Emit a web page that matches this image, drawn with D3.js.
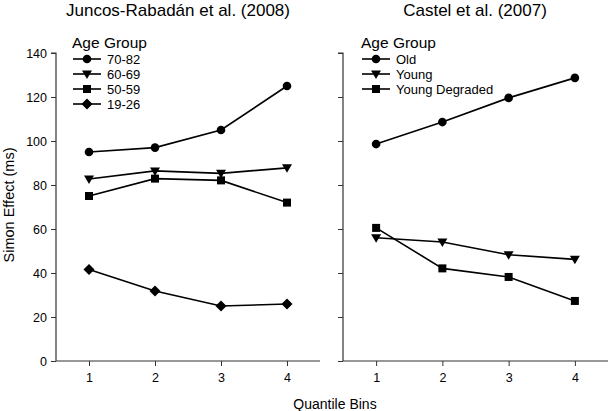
<!DOCTYPE html>
<html><head><meta charset="utf-8">
<script src="https://cdn.jsdelivr.net/npm/d3@7"></script>
<style>body{margin:0;background:#fff}svg{display:block}text{font-family:"Liberation Sans",Arial,sans-serif;fill:#000}</style>
</head><body>
<script>
const bins = [1, 2, 3, 4];
const yTicks = [0, 20, 40, 60, 80, 100, 120, 140];
const leftTitle = "Juncos-Rabadán et al. (2008)";
const rightTitle = "Castel et al. (2007)";
const leftNames = ["70-82", "60-69", "50-59", "19-26"];
const leftShapes = ["circle", "triangle", "square", "diamond"];
const g7082 = [95, 97, 105, 125];
const g6069 = [82.7, 86.4, 85.3, 87.8];
const g5059 = [75, 82.9, 82.1, 72];
const g1926 = [41.6, 31.8, 25, 25.9];
const rightNames = ["Old", "Young", "Young Degraded"];
const rightShapes = ["circle", "triangle", "square"];
const old = [98.6, 108.6, 119.6, 128.7];
const young = [56, 54.1, 48.3, 46.2];
const youngDeg = [60.5, 42.1, 38.2, 27.3];

const W = 609, H = 411;
const svg = d3.select("body").append("svg").attr("width", W).attr("height", H);
const y = d3.scaleLinear().domain([0, 140]).range([361, 53]);

function marker(g, shape, cx, cy) {
  if (shape === "circle") g.append("circle").attr("cx", cx).attr("cy", cy).attr("r", 4.3).attr("fill", "#000");
  else if (shape === "square") g.append("rect").attr("x", cx - 4).attr("y", cy - 4).attr("width", 8).attr("height", 8).attr("fill", "#000");
  else if (shape === "triangle") g.append("path").attr("d", `M${cx-5},${cy-3.5}L${cx+5},${cy-3.5}L${cx},${cy+5}Z`).attr("fill", "#000");
  else if (shape === "diamond") g.append("path").attr("d", `M${cx},${cy-5.5}L${cx+5.5},${cy}L${cx},${cy+5.5}L${cx-5.5},${cy}Z`).attr("fill", "#000");
}

function panel(x0, x1, title, titleX, names, shapes, series, legX) {
  const x = d3.scaleLinear().domain([0.5, 4.5]).range([x0, x1]);
  const g = svg.append("g");
  const ya = g.append("g").attr("transform", `translate(${x0},0)`)
    .call(d3.axisLeft(y).tickValues(yTicks).tickSize(5).tickPadding(4));
  const xa = g.append("g").attr("transform", `translate(0,${y(0)})`)
    .call(d3.axisBottom(x).tickValues(bins).tickFormat(d3.format("d")).tickSize(5).tickPadding(7).tickSizeOuter(0));
  [ya, xa].forEach(a => {
    a.selectAll("path").attr("stroke", "#333").attr("stroke-width", 1.2);
    a.selectAll("line").attr("stroke", "#333");
    a.selectAll("text").attr("font-size", 12.5).attr("font-family", "Liberation Sans, Arial, sans-serif");
  });
  ya.select(".domain").attr("d", `M0,${y(0)}V${y(140)}H-5`);
  xa.select(".domain").attr("d", `M${x0},0H${x1}`);
  if (x0 > 100) ya.selectAll("text").remove();
  g.append("text").attr("x", titleX).attr("y", 16).attr("text-anchor", "middle").attr("font-size", 17).text(title);
  const line = d3.line().x((d, i) => x(bins[i])).y(d => y(d));
  series.forEach((s, k) => {
    g.append("path").attr("d", line(s)).attr("fill", "none").attr("stroke", "#000").attr("stroke-width", 1.6);
    s.forEach((v, i) => marker(g, shapes[k], x(bins[i]), y(v)));
  });
  // legend
  g.append("text").attr("x", legX).attr("y", 48).attr("font-size", 15.5).text("Age Group");
  names.forEach((n, k) => {
    const ly = 59 + k * 15;
    g.append("line").attr("x1", legX + 1).attr("x2", legX + 29).attr("y1", ly).attr("y2", ly).attr("stroke", "#000").attr("stroke-width", 1.6);
    marker(g, shapes[k], legX + 15, ly);
    g.append("text").attr("x", legX + 35).attr("y", ly + 5).attr("font-size", 13).text(n);
  });
}

panel(56, 320, leftTitle, 178, leftNames, leftShapes, [g7082, g6069, g5059, g1926], 72);
panel(343, 608, rightTitle, 475, rightNames, rightShapes, [old, young, youngDeg], 361);

svg.append("text").attr("x", 335).attr("y", 409).attr("text-anchor", "middle").attr("font-size", 14).text("Quantile Bins");
svg.append("text").attr("transform", "translate(14,205) rotate(-90)").attr("text-anchor", "middle").attr("font-size", 14.5).text("Simon Effect (ms)");
</script>
</body></html>
